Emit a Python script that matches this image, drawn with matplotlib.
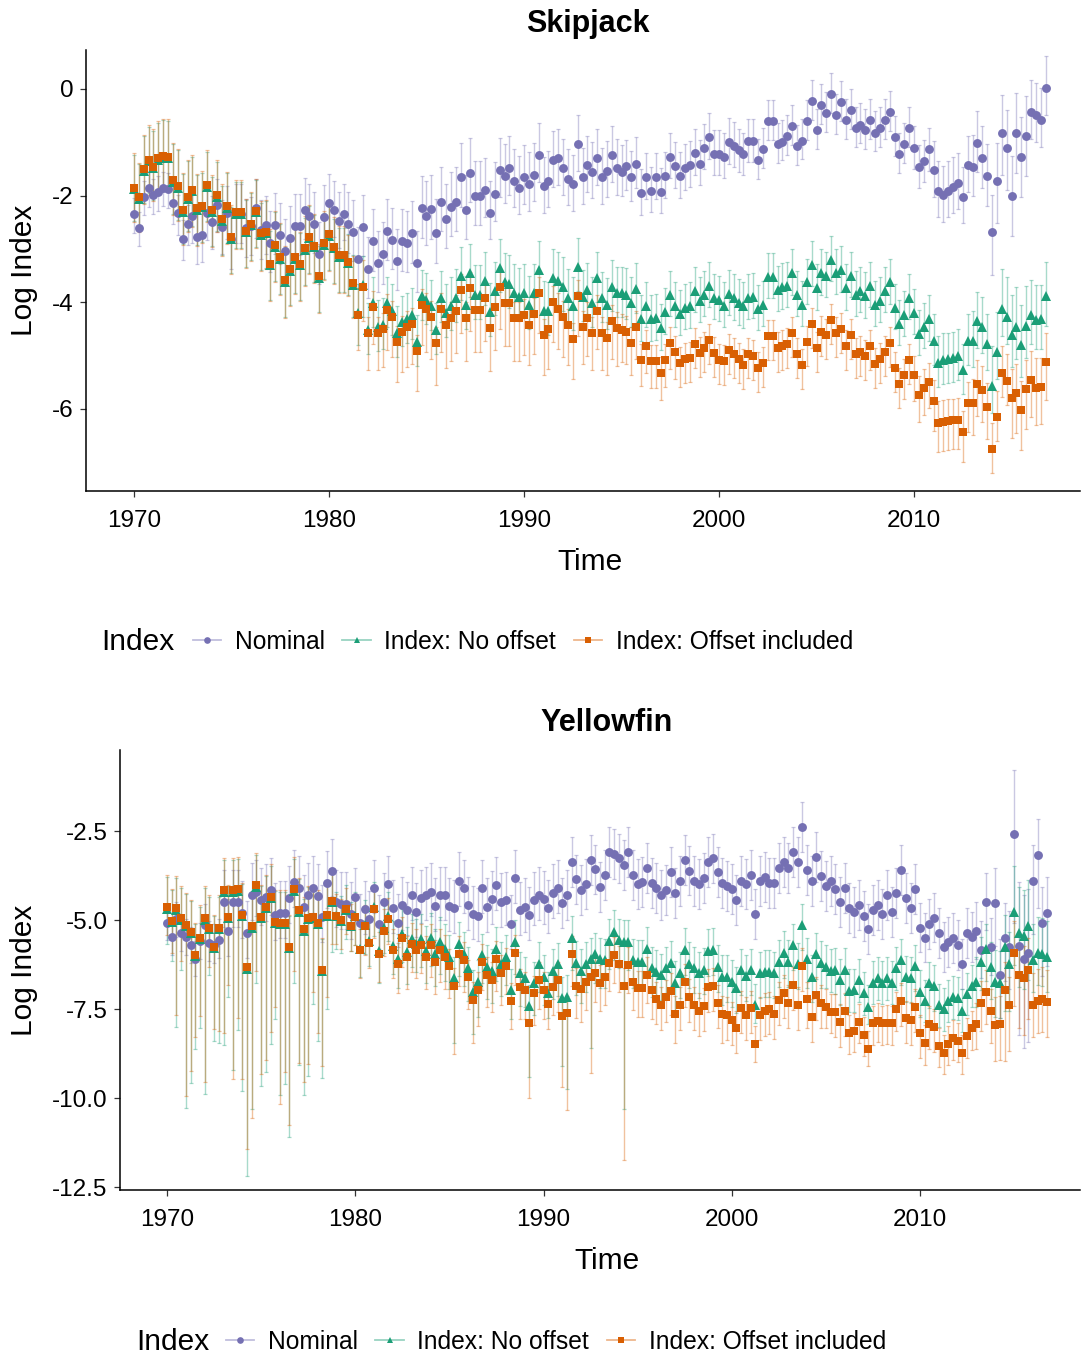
import numpy as np
import matplotlib.pyplot as plt
from matplotlib.lines import Line2D
from matplotlib.ticker import FormatStrFormatter
from matplotlib.colors import to_rgba

plt.rcParams['font.family'] = ['Liberation Sans', 'DejaVu Sans']
plt.rcParams['axes.unicode_minus'] = False

# quarterly time steps 1970.00 ... 2016.75
n_q = 188
time = 1970 + np.arange(n_q) / 4.0

labels = ['Nominal', 'Index: No offset', 'Index: Offset included']
colors = ['#7570B3', '#1B9E77', '#D95F02']
markers = ['o', '^', 's']

# ---------------- Skipjack (log index, one line per year) ----------------
sk_nom = [
    -2.35, -2.60, -2.02, -1.86,  -1.99, -1.93, -1.85, -1.88,
    -2.14, -2.33, -2.81, -2.53,  -2.39, -2.78, -2.74, -2.33,
    -2.50, -2.18, -2.59, -2.32,  -2.82, -2.34, -2.34, -2.61,
    -2.57, -2.24, -2.64, -2.55,  -2.88, -2.55, -2.74, -3.03,
    -2.80, -2.57, -2.57, -2.27,  -2.38, -2.53, -3.10, -2.40,
    -2.14, -2.27, -2.48, -2.34,  -2.53, -2.68, -3.19, -2.58,
    -3.38, -2.86, -3.26, -3.10,  -2.66, -2.83, -3.23, -2.86,
    -2.89, -2.71, -3.26, -2.24,  -2.38, -2.26, -2.71, -2.12,
    -2.44, -2.21, -2.12, -1.66,  -2.27, -1.57, -2.01, -2.01,
    -1.90, -2.32, -1.97, -1.52,  -1.64, -1.49, -1.72, -1.85,
    -1.66, -1.78, -1.61, -1.24,  -1.82, -1.72, -1.33, -1.30,
    -1.49, -1.68, -1.78, -1.03,  -1.66, -1.43, -1.55, -1.30,
    -1.66, -1.53, -1.24, -1.49,  -1.55, -1.45, -1.66, -1.40,
    -1.96, -1.66, -1.91, -1.66,  -1.93, -1.64, -1.27, -1.45,
    -1.64, -1.49, -1.43, -1.21,  -1.40, -1.10, -0.91, -1.22,
    -1.22, -1.27, -1.00, -1.07,  -1.15, -1.22, -0.97, -0.97,
    -1.33, -1.13, -0.61, -0.61,  -1.04, -0.99, -0.89, -0.70,
    -1.07, -0.97, -0.61, -0.23,  -0.77, -0.31, -0.46, -0.10,
    -0.49, -0.25, -0.58, -0.40,  -0.74, -0.67, -0.77, -0.58,
    -0.82, -0.73, -0.58, -0.44,  -0.91, -1.22, -1.04, -0.74,
    -1.10, -1.46, -1.35, -1.13,  -1.52, -1.91, -1.99, -1.91,
    -1.83, -1.76, -2.02, -1.43,  -1.46, -1.01, -1.30, -1.64,
    -2.69, -1.72, -0.82, -1.10,  -2.00, -0.82, -1.28, -0.89,
    -0.43, -0.49, -0.58, 0.01,
]
sk_noff = [
    -1.88, -2.06, -1.54, -1.36,  -1.49, -1.33, -1.29, -1.30,
    -1.74, -1.85, -2.30, -2.06,  -1.92, -2.27, -2.22, -1.83,
    -2.30, -2.02, -2.47, -2.23,  -2.81, -2.34, -2.34, -2.69,
    -2.56, -2.31, -2.74, -2.71,  -3.31, -2.96, -3.19, -3.62,
    -3.41, -3.18, -3.31, -3.02,  -2.80, -2.97, -3.54, -2.92,
    -2.75, -2.99, -3.15, -3.15,  -3.27, -3.67, -4.20, -3.68,
    -4.52, -4.02, -4.46, -4.43,  -4.02, -4.16, -4.58, -4.38,
    -4.32, -4.24, -4.74, -3.89,  -3.95, -4.08, -4.52, -3.92,
    -4.20, -4.08, -3.92, -3.51,  -4.05, -3.46, -3.86, -3.86,
    -3.61, -4.19, -3.79, -3.36,  -3.63, -3.66, -3.83, -3.90,
    -3.83, -4.05, -3.83, -3.40,  -4.16, -4.17, -3.55, -3.61,
    -3.71, -3.92, -4.08, -3.34,  -3.90, -3.77, -4.02, -3.55,
    -3.93, -4.05, -3.71, -3.83,  -3.83, -3.86, -4.02, -3.76,
    -4.32, -4.07, -4.32, -4.30,  -4.49, -4.19, -3.86, -4.07,
    -4.22, -4.11, -4.08, -3.79,  -3.97, -3.86, -3.69, -3.92,
    -3.95, -4.07, -3.84, -3.93,  -4.02, -4.08, -3.92, -3.90,
    -4.13, -4.05, -3.53, -3.53,  -3.77, -3.72, -3.69, -3.46,
    -3.86, -4.05, -3.63, -3.30,  -3.74, -3.46, -3.51, -3.21,
    -3.45, -3.40, -3.74, -3.51,  -3.86, -3.79, -3.89, -3.69,
    -4.05, -3.97, -3.79, -3.63,  -4.11, -4.41, -4.24, -3.92,
    -4.20, -4.59, -4.46, -4.32,  -4.72, -5.14, -5.08, -5.07,
    -5.05, -5.01, -5.28, -4.72,  -4.72, -4.35, -4.46, -4.78,
    -5.57, -4.94, -4.13, -4.28,  -4.61, -4.46, -4.80, -4.45,
    -4.24, -4.33, -4.32, -3.89,
]
sk_off = [
    -1.85, -2.03, -1.51, -1.33,  -1.46, -1.30, -1.26, -1.27,
    -1.71, -1.82, -2.27, -2.03,  -1.89, -2.24, -2.19, -1.80,
    -2.27, -1.99, -2.44, -2.20,  -2.78, -2.31, -2.31, -2.66,
    -2.53, -2.28, -2.71, -2.68,  -3.28, -2.93, -3.16, -3.59,
    -3.38, -3.15, -3.28, -2.99,  -2.77, -2.94, -3.51, -2.89,
    -2.72, -2.96, -3.12, -3.12,  -3.24, -3.64, -4.24, -3.71,
    -4.57, -4.09, -4.57, -4.51,  -4.14, -4.28, -4.74, -4.55,
    -4.46, -4.40, -4.91, -4.05,  -4.13, -4.27, -4.76, -4.13,
    -4.43, -4.30, -4.16, -3.77,  -4.30, -3.74, -4.14, -4.14,
    -3.92, -4.49, -4.09, -3.71,  -4.02, -4.02, -4.30, -4.30,
    -4.24, -4.43, -4.22, -3.83,  -4.61, -4.51, -3.99, -4.13,
    -4.27, -4.43, -4.69, -3.89,  -4.46, -4.30, -4.58, -4.17,
    -4.58, -4.67, -4.36, -4.49,  -4.52, -4.55, -4.77, -4.46,
    -5.08, -4.82, -5.11, -5.11,  -5.33, -5.09, -4.76, -4.94,
    -5.14, -5.07, -5.04, -4.79,  -4.96, -4.85, -4.71, -4.96,
    -5.09, -5.11, -4.89, -4.98,  -5.07, -5.18, -4.98, -5.01,
    -5.24, -5.14, -4.63, -4.63,  -4.86, -4.82, -4.79, -4.58,
    -4.98, -5.18, -4.74, -4.41,  -4.85, -4.55, -4.61, -4.33,
    -4.57, -4.51, -4.83, -4.62,  -4.98, -4.94, -5.01, -4.82,
    -5.16, -5.07, -4.94, -4.76,  -5.24, -5.53, -5.36, -5.08,
    -5.36, -5.74, -5.61, -5.49,  -5.86, -6.26, -6.24, -6.22,
    -6.21, -6.20, -6.44, -5.89,  -5.89, -5.53, -5.64, -5.97,
    -6.76, -6.16, -5.33, -5.48,  -5.80, -5.70, -6.02, -5.63,
    -5.46, -5.60, -5.59, -5.13,
]

# error bar reach below / above the point, one value per year 1970-2016
sk_nom_up = [0.30, 0.30, 0.35, 0.50, 0.50, 0.55, 0.55, 0.60, 0.60, 0.60, 0.55, 0.60,
             0.60, 0.60, 0.60, 0.65, 0.65, 0.65, 0.60, 0.60, 0.60, 0.55, 0.55, 0.55,
             0.55, 0.50, 0.45, 0.45, 0.45, 0.45, 0.45, 0.40, 0.40, 0.40, 0.40, 0.40,
             0.40, 0.40, 0.40, 0.40, 0.40, 0.55, 0.55, 0.60, 0.70, 0.75, 0.60]
sk_nom_lo = [0.35, 0.35, 0.40, 0.50, 0.50, 0.55, 0.55, 0.55, 0.55, 0.55, 0.50, 0.55,
             0.55, 0.55, 0.55, 0.55, 0.55, 0.55, 0.50, 0.50, 0.50, 0.50, 0.50, 0.50,
             0.50, 0.45, 0.40, 0.40, 0.40, 0.40, 0.40, 0.40, 0.35, 0.35, 0.35, 0.35,
             0.35, 0.35, 0.35, 0.35, 0.40, 0.50, 0.50, 0.55, 0.80, 0.75, 0.50]
sk_noff_up = [0.65, 0.70, 0.70, 0.65, 0.65, 0.60, 0.60, 0.65, 0.60, 0.60, 0.55, 0.55,
              0.50, 0.50, 0.50, 0.50, 0.55, 0.55, 0.55, 0.55, 0.55, 0.55, 0.55, 0.50,
              0.50, 0.50, 0.45, 0.45, 0.45, 0.45, 0.45, 0.45, 0.45, 0.45, 0.45, 0.45,
              0.45, 0.45, 0.45, 0.45, 0.45, 0.50, 0.50, 0.55, 0.75, 0.75, 0.65]
sk_noff_lo = [0.60, 0.60, 0.60, 0.65, 0.65, 0.65, 0.65, 0.65, 0.65, 0.65, 0.65, 0.60,
              0.45, 0.45, 0.45, 0.45, 0.45, 0.45, 0.45, 0.45, 0.45, 0.45, 0.45, 0.45,
              0.45, 0.45, 0.40, 0.40, 0.40, 0.40, 0.40, 0.40, 0.40, 0.40, 0.40, 0.40,
              0.40, 0.40, 0.40, 0.40, 0.40, 0.45, 0.45, 0.50, 0.50, 0.60, 0.55]
sk_off_up = [0.65, 0.70, 0.70, 0.65, 0.65, 0.60, 0.60, 0.65, 0.60, 0.60, 0.55, 0.50,
             0.30, 0.30, 0.30, 0.30, 0.30, 0.30, 0.30, 0.30, 0.30, 0.30, 0.30, 0.30,
             0.30, 0.30, 0.30, 0.30, 0.30, 0.30, 0.30, 0.30, 0.30, 0.30, 0.30, 0.30,
             0.30, 0.30, 0.30, 0.30, 0.35, 0.40, 0.40, 0.45, 0.50, 0.55, 0.55]
sk_off_lo = [0.65, 0.65, 0.65, 0.70, 0.70, 0.70, 0.70, 0.70, 0.70, 0.70, 0.70, 0.65,
             0.70, 0.75, 0.75, 0.80, 0.80, 0.80, 0.80, 0.80, 0.75, 0.75, 0.75, 0.70,
             0.70, 0.60, 0.50, 0.50, 0.45, 0.45, 0.45, 0.45, 0.45, 0.45, 0.45, 0.45,
             0.45, 0.45, 0.45, 0.45, 0.50, 0.55, 0.55, 0.60, 0.45, 0.75, 0.70]

# ---------------- Yellowfin ----------------
yf_nom = [
    -5.07, -5.47, -4.98, -5.37,  -5.47, -5.70, -6.08, -5.58,
    -5.14, -5.64, -5.70, -5.56,  -4.49, -5.30, -4.49, -4.49,
    -4.81, -5.37, -4.30, -4.20,  -4.44, -4.34, -4.16, -4.86,
    -4.81, -4.79, -4.39, -3.92,  -4.11, -4.63, -4.30, -4.11,
    -4.33, -4.91, -3.95, -3.62,  -4.49, -4.55, -4.55, -4.83,
    -4.34, -5.07, -4.70, -4.98,  -4.11, -5.11, -4.49, -3.99,
    -4.67, -5.07, -4.58, -4.72,  -4.30, -4.77, -4.39, -4.30,
    -4.20, -4.61, -4.30, -4.30,  -4.61, -4.67, -3.90, -4.11,
    -4.58, -4.83, -4.89, -4.11,  -4.63, -4.42, -4.02, -4.49,
    -4.44, -5.11, -3.83, -4.72,  -4.63, -4.86, -4.44, -4.30,
    -4.42, -4.67, -4.23, -4.11,  -4.51, -4.30, -3.36, -3.86,
    -4.16, -3.99, -3.31, -3.58,  -4.08, -3.74, -3.08, -3.15,
    -3.27, -3.46, -3.08, -3.74,  -3.99, -3.92, -3.55, -3.95,
    -4.11, -4.30, -4.16, -3.64,  -4.25, -3.90, -3.31, -3.61,
    -3.90, -3.99, -3.83, -3.36,  -3.27, -3.64, -3.95, -4.04,
    -4.14, -4.44, -3.90, -3.99,  -3.74, -4.83, -3.90, -3.78,
    -3.95, -3.95, -3.55, -3.36,  -3.55, -3.08, -3.36, -2.38,
    -3.60, -3.90, -3.22, -3.76,  -4.04, -3.90, -4.14, -4.49,
    -4.11, -4.67, -4.77, -4.58,  -4.89, -5.26, -4.72, -4.58,
    -4.83, -4.30, -4.77, -4.23,  -3.60, -4.39, -4.67, -4.14,
    -5.21, -5.49, -5.11, -4.93,  -5.37, -5.75, -5.61, -5.51,
    -5.70, -6.24, -5.37, -5.47,  -5.30, -5.84, -4.49, -5.75,
    -4.53, -6.54, -5.51, -5.75,  -2.58, -5.73, -6.10, -5.92,
    -3.90, -3.17, -5.07, -4.79,
]
yf_noff = [
    -4.68, -5.06, -4.71, -4.99,  -5.18, -5.37, -6.02, -5.53,
    -4.99, -5.25, -5.79, -5.25,  -4.20, -4.95, -4.20, -4.18,
    -4.90, -6.38, -5.21, -4.06,  -4.95, -4.67, -4.38, -5.09,
    -5.11, -5.11, -5.79, -4.18,  -4.76, -5.30, -4.97, -4.95,
    -5.11, -6.43, -4.90, -4.50,  -4.90, -5.02, -4.72, -5.18,
    -4.90, -5.80, -5.15, -5.58,  -4.64, -5.86, -5.22, -4.90,
    -5.72, -6.10, -5.38, -5.90,  -5.52, -5.66, -5.52, -5.86,
    -5.50, -5.96, -5.62, -5.82,  -6.03, -6.64, -5.66, -5.94,
    -6.36, -7.01, -6.73, -5.98,  -6.31, -6.42, -5.80, -6.22,
    -6.03, -6.97, -5.61, -6.50,  -6.64, -7.42, -6.78, -6.22,
    -6.59, -7.06, -6.42, -6.24,  -7.20, -7.15, -5.49, -6.20,
    -6.42, -6.22, -6.10, -5.96,  -6.10, -6.12, -5.58, -5.33,
    -5.56, -5.61, -5.61, -6.12,  -6.17, -6.17, -5.80, -6.36,
    -6.45, -6.54, -6.36, -6.20,  -6.76, -6.50, -5.83, -6.22,
    -6.36, -6.50, -6.39, -5.86,  -5.83, -6.31, -6.59, -6.59,
    -6.73, -6.92, -6.40, -6.57,  -6.40, -7.39, -6.50, -6.45,
    -6.45, -6.50, -6.17, -5.92,  -6.17, -5.70, -6.24, -5.14,
    -6.10, -6.59, -5.96, -6.20,  -6.31, -6.42, -6.39, -6.69,
    -6.39, -6.98, -6.97, -6.69,  -7.06, -7.43, -6.76, -6.64,
    -6.76, -6.64, -6.76, -6.36,  -6.12, -6.61, -6.64, -6.29,
    -7.01, -7.27, -6.78, -6.85,  -7.39, -7.51, -7.27, -7.17,
    -7.20, -7.55, -7.08, -6.85,  -6.73, -6.17, -5.80, -6.33,
    -6.73, -6.76, -5.75, -6.24,  -4.77, -5.37, -5.45, -5.17,
    -6.12, -5.92, -5.94, -6.03,
]
yf_off = [
    -4.63, -5.02, -4.67, -4.95,  -5.14, -5.33, -5.98, -5.49,
    -4.95, -5.21, -5.75, -5.21,  -4.16, -4.91, -4.16, -4.14,
    -4.86, -6.33, -5.17, -4.02,  -4.91, -4.63, -4.34, -5.05,
    -5.07, -5.07, -5.75, -4.14,  -4.72, -5.26, -4.93, -4.91,
    -5.07, -6.39, -4.86, -4.46,  -4.88, -5.00, -4.70, -5.16,
    -4.91, -5.84, -5.18, -5.64,  -4.70, -5.94, -5.30, -4.98,
    -5.84, -6.24, -5.51, -6.05,  -5.67, -5.84, -5.70, -6.05,
    -5.70, -6.17, -5.84, -6.03,  -6.30, -6.85, -5.94, -6.12,
    -6.61, -7.25, -6.97, -6.17,  -6.54, -6.69, -6.10, -6.48,
    -6.29, -7.27, -5.92, -6.87,  -6.97, -7.90, -7.06, -6.69,
    -6.97, -7.36, -6.87, -6.69,  -7.70, -7.62, -5.94, -6.85,
    -6.95, -6.73, -6.59, -6.50,  -6.76, -6.59, -6.20, -5.98,
    -6.22, -6.85, -6.26, -6.73,  -6.92, -6.92, -6.54, -6.97,
    -7.23, -7.39, -7.17, -6.98,  -7.64, -7.39, -6.73, -7.15,
    -7.39, -7.55, -7.42, -6.87,  -6.85, -7.32, -7.64, -7.67,
    -7.81, -8.04, -7.48, -7.67,  -7.48, -8.48, -7.67, -7.55,
    -7.51, -7.64, -7.25, -7.04,  -7.32, -6.83, -7.39, -6.29,
    -7.23, -7.72, -7.11, -7.32,  -7.43, -7.57, -7.57, -7.86,
    -7.55, -8.17, -8.11, -7.86,  -8.23, -8.61, -7.90, -7.83,
    -7.90, -7.88, -7.90, -7.51,  -7.27, -7.76, -7.81, -7.45,
    -8.18, -8.46, -7.92, -8.00,  -8.54, -8.73, -8.48, -8.32,
    -8.39, -8.73, -8.26, -8.04,  -7.92, -7.32, -7.01, -7.55,
    -7.95, -7.92, -6.97, -7.39,  -5.92, -6.54, -6.64, -6.39,
    -7.39, -7.27, -7.23, -7.29,
]

# yearly reach of the nominal bars and upper reach of the model bars
yf_nom_up = [0.5, 0.5, 0.6, 0.9, 0.9, 0.9, 0.9, 0.9, 0.9, 0.9, 0.8, 0.8,
             0.8, 0.8, 0.8, 0.8, 0.8, 0.8, 0.8, 0.8, 0.8, 0.7, 0.7, 0.7,
             0.7, 0.7, 0.7, 0.7, 0.7, 0.7, 0.7, 0.7, 0.7, 0.7, 0.7, 0.7,
             0.7, 0.7, 0.7, 0.7, 0.7, 0.7, 0.7, 0.8, 1.0, 1.8, 1.0]
yf_nom_lo = [0.5, 0.5, 0.5, 0.7, 0.7, 0.7, 0.7, 0.7, 0.7, 0.7, 0.7, 0.7,
             0.7, 0.7, 0.7, 0.7, 0.7, 0.7, 0.7, 0.7, 0.7, 0.7, 0.7, 0.7,
             0.7, 0.7, 0.7, 0.7, 0.7, 0.7, 0.7, 0.7, 0.7, 0.7, 0.7, 0.7,
             0.7, 0.7, 0.7, 0.7, 0.7, 0.7, 0.7, 0.8, 1.2, 2.5, 1.5]
yf_noff_up = [0.9, 0.9, 0.9, 0.9, 0.9, 0.9, 0.9, 0.9, 0.9, 0.7, 0.7, 0.7,
              0.7, 0.7, 0.7, 0.6, 0.6, 0.6, 0.6, 0.6, 0.6, 0.6, 0.6, 0.6,
              0.6, 0.6, 0.6, 0.6, 0.6, 0.6, 0.6, 0.6, 0.6, 0.6, 0.6, 0.6,
              0.6, 0.6, 0.6, 0.6, 0.6, 0.6, 0.6, 0.7, 0.9, 1.3, 1.0]
yf_off_up = [0.9, 0.9, 0.9, 0.9, 0.9, 0.9, 0.9, 0.9, 0.9, 0.6, 0.6, 0.6,
             0.6, 0.6, 0.6, 0.5, 0.5, 0.5, 0.5, 0.5, 0.5, 0.5, 0.5, 0.5,
             0.5, 0.5, 0.5, 0.5, 0.5, 0.5, 0.5, 0.5, 0.5, 0.5, 0.5, 0.5,
             0.5, 0.5, 0.5, 0.5, 0.5, 0.5, 0.5, 0.6, 0.8, 0.9, 0.9]

# lower reach of the model bars, per quarter (long whiskers in the 1970s)
yf_noff_lo = [
    1.0, 1.1, 3.3, 1.4,  5.1, 4.2, 2.6, 2.5,  4.9, 1.3, 2.6, 3.2,
    4.3, 2.2, 5.0, 3.9,  4.9, 5.8, 5.1, 2.7,  4.7, 4.6, 4.1, 2.7,
    4.8, 4.5, 5.3, 2.6,  4.3, 4.6, 4.4, 2.4,  3.3, 3.0, 2.6, 1.4,
    0.9, 0.9, 0.8, 0.7,  0.8, 0.8, 0.8, 0.7,  0.8, 0.9, 0.7, 0.7,
    0.8, 0.8, 0.8, 0.9,  0.8, 0.8, 0.8, 0.9,  0.8, 0.9, 0.9, 0.9,
    0.9, 1.8, 0.9, 0.9,  0.9, 1.2, 1.0, 0.8,  0.9, 0.9, 0.9, 0.9,
    0.8, 0.8, 0.9, 0.9,  0.8, 2.0, 0.9, 0.8,  0.8, 0.7, 0.8, 0.9,
    1.9, 2.6, 0.9, 0.9,  0.9, 0.8, 2.5, 0.8,  0.8, 0.8, 0.8, 0.8,
    0.8, 4.7, 0.8, 0.8,  0.8, 0.8, 0.8, 0.8,  0.7, 0.7, 0.7, 0.7,
    0.8, 0.7, 0.7, 0.7,  0.7, 0.7, 0.7, 0.7,  0.7, 0.7, 0.8, 0.7,
    0.7, 0.7, 0.7, 0.7,  0.7, 0.5, 0.7, 0.7,  0.7, 0.7, 0.7, 0.7,
    0.7, 0.7, 0.7, 0.7,  0.8, 0.7, 0.7, 0.7,  0.6, 0.6, 0.7, 0.7,
    0.7, 0.6, 0.6, 0.6,  0.6, 0.5, 0.6, 0.6,  0.6, 0.6, 0.6, 0.6,
    0.7, 0.7, 0.7, 0.7,  0.7, 0.6, 0.7, 0.7,  0.6, 0.6, 0.6, 0.6,
    0.6, 0.6, 0.6, 0.6,  0.7, 0.8, 0.9, 0.9,  1.0, 1.0, 1.8, 1.3,
    1.5, 1.5, 1.5, 1.5,  0.9, 0.9, 0.9, 1.0,
]
yf_off_lo = [
    0.8, 0.9, 3.0, 1.2,  4.8, 3.9, 2.3, 2.2,  4.6, 1.1, 2.3, 2.9,
    4.0, 1.9, 5.3, 3.6,  4.6, 5.1, 5.4, 2.4,  4.4, 4.3, 3.8, 2.4,
    5.1, 4.2, 5.0, 2.3,  4.3, 4.3, 4.1, 2.1,  3.1, 2.7, 2.3, 1.2,
    0.8, 0.8, 0.7, 0.7,  0.8, 0.8, 0.8, 0.7,  0.8, 0.8, 0.7, 0.7,
    0.8, 0.8, 0.8, 0.9,  0.8, 0.8, 0.8, 0.9,  0.9, 0.9, 0.9, 0.9,
    0.9, 1.9, 0.9, 0.9,  0.9, 1.2, 1.0, 0.8,  0.9, 0.9, 0.9, 0.9,
    0.8, 0.8, 0.9, 0.9,  0.8, 2.1, 0.9, 0.8,  0.8, 0.7, 0.8, 0.9,
    2.0, 2.7, 0.9, 0.9,  0.9, 0.8, 2.7, 0.8,  0.8, 0.8, 0.8, 0.8,
    0.8, 4.9, 0.8, 0.8,  0.8, 0.8, 0.8, 0.8,  0.7, 0.7, 0.7, 0.7,
    0.8, 0.7, 0.7, 0.7,  0.7, 0.7, 0.7, 0.7,  0.7, 0.7, 0.8, 0.7,
    0.7, 0.7, 0.7, 0.7,  0.7, 0.5, 0.7, 0.7,  0.7, 0.7, 0.7, 0.7,
    0.7, 0.7, 0.7, 0.7,  0.8, 0.7, 0.7, 0.7,  0.6, 0.6, 0.7, 0.7,
    0.7, 0.6, 0.6, 0.6,  0.6, 0.5, 0.6, 0.6,  0.6, 0.6, 0.6, 0.6,
    0.7, 0.7, 0.7, 0.7,  0.7, 0.6, 0.7, 0.7,  0.6, 0.6, 0.6, 0.6,
    0.6, 0.6, 0.6, 0.6,  0.7, 0.8, 0.9, 0.9,  1.0, 1.0, 2.0, 1.3,
    1.5, 1.5, 1.6, 1.4,  0.9, 0.9, 0.9, 1.0,
]


def per_quarter(yearly):
    # yearly bar reach applies to each quarter of that year
    return np.repeat(np.asarray(yearly, dtype=float), 4)


W, H = 1083, 1356
fig = plt.figure(figsize=(W / 100, H / 100), dpi=100)


def axes_px(left, top, right, bottom):
    return fig.add_axes([left / W, 1 - bottom / H, (right - left) / W, (bottom - top) / H])


def draw_panel(ax, series):
    # bars first, then the points on top
    for vals, lo, up, col in series:
        ax.errorbar(time, vals, yerr=[lo, up], fmt='none', ecolor=to_rgba(col, 0.38),
                    elinewidth=1.0, capsize=1.3, capthick=0.9, zorder=2)
    for (vals, lo, up, col), mk in zip(series, markers):
        ms = {'o': 6.4, '^': 7.0, 's': 6.0}[mk]
        ax.plot(time, vals, linestyle='none', marker=mk, ms=ms, color=col,
                markeredgewidth=0, zorder=3)
    for side in ('top', 'right'):
        ax.spines[side].set_visible(False)
    for side in ('left', 'bottom'):
        ax.spines[side].set_linewidth(1.1)
        ax.spines[side].set_color('black')
    ax.set_xticks([1970, 1980, 1990, 2000, 2010])
    ax.tick_params(axis='both', labelsize=17.5, length=4.5, width=0.9, color='#333333',
                   labelcolor='black')
    ax.tick_params(axis='x', pad=9.0)
    ax.tick_params(axis='y', pad=4.5)
    ax.set_xlabel('Time', fontsize=21.5)
    ax.set_ylabel('Log Index', fontsize=21.5)


def add_legend(y_px, title_x_px, keys_x_px):
    fig.text(title_x_px / W, 1 - y_px / H, 'Index', fontsize=21.5, ha='left', va='center')
    handles = [Line2D([0], [0], color=to_rgba(c, 0.45), lw=1.3, marker=m,
                      markerfacecolor=c, markeredgecolor=c, markeredgewidth=0, ms=4.8)
               for c, m in zip(colors, markers)]
    fig.legend(handles=handles, labels=labels, loc='center left',
               bbox_to_anchor=(keys_x_px / W, 1 - y_px / H), ncol=3, frameon=False,
               fontsize=17.7, handlelength=1.15, handletextpad=0.55, columnspacing=0.72,
               borderaxespad=0, borderpad=0)


# Skipjack panel
ax1 = axes_px(86, 50, 1080, 491)
draw_panel(ax1, [
    (sk_nom, per_quarter(sk_nom_lo), per_quarter(sk_nom_up), colors[0]),
    (sk_noff, per_quarter(sk_noff_lo), per_quarter(sk_noff_up), colors[1]),
    (sk_off, per_quarter(sk_off_lo), per_quarter(sk_off_up), colors[2]),
])
ax1.set_xlim(1967.54, 2018.51)
ax1.set_ylim(-7.54, 0.73)
ax1.set_yticks([0, -2, -4, -6])
ax1.yaxis.set_major_formatter(FormatStrFormatter('%d'))
ax1.xaxis.set_label_coords(0.507, -0.13)
ax1.yaxis.set_label_coords(-0.048, 0.5)
fig.text(588 / W, 1 - 24 / H, 'Skipjack', fontsize=22, fontweight='bold', ha='center', va='center')
add_legend(642, 101, 193)

# Yellowfin panel
ax2 = axes_px(120, 750, 1080, 1190)
draw_panel(ax2, [
    (yf_nom, per_quarter(yf_nom_lo), per_quarter(yf_nom_up), colors[0]),
    (yf_noff, yf_noff_lo, per_quarter(yf_noff_up), colors[1]),
    (yf_off, yf_off_lo, per_quarter(yf_off_up), colors[2]),
])
ax2.set_xlim(1967.50, 2018.50)
ax2.set_ylim(-12.58, -0.225)
ax2.set_yticks([-2.5, -5.0, -7.5, -10.0, -12.5])
ax2.yaxis.set_major_formatter(FormatStrFormatter('%.1f'))
ax2.xaxis.set_label_coords(0.507, -0.13)
ax2.yaxis.set_label_coords(-0.0855, 0.5)
fig.text(607 / W, 1 - 723 / H, 'Yellowfin', fontsize=22, fontweight='bold', ha='center', va='center')
add_legend(1342, 136, 226)

fig.savefig('out.png', dpi=100)
